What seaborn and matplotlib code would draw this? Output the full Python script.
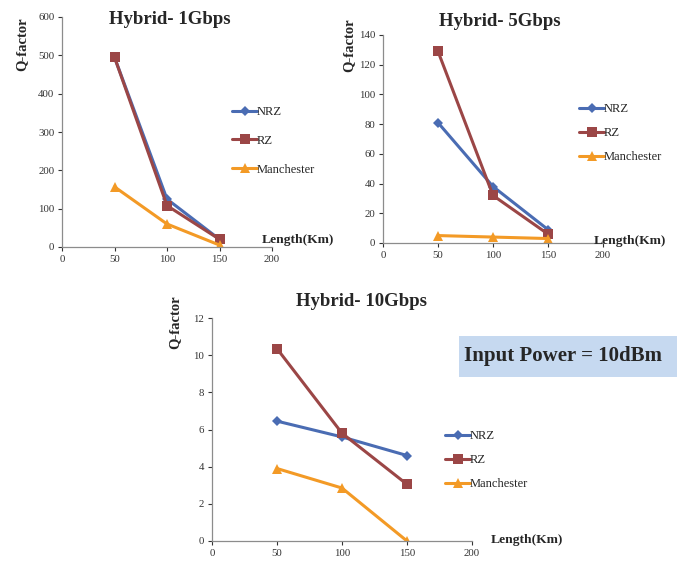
import numpy as np
import pandas as pd
import matplotlib
matplotlib.use("Agg")
import matplotlib.pyplot as plt
import seaborn as sns
from matplotlib.patches import Rectangle

# Datos
lengths = [50, 100, 150]
schemes = ["NRZ", "RZ", "Manchester"]

q_1g_nrz = [495, 125, 20]
q_1g_rz = [495, 108, 20]
q_1g_man = [157, 60, 5]

q_5g_nrz = [81, 38, 9]
q_5g_rz = [129, 32, 6]
q_5g_man = [5, 4, 3]

q_10g_nrz = [6.45, 5.6, 4.6]
q_10g_rz = [10.35, 5.8, 3.05]
q_10g_man = [3.9, 2.85, 0.0]

titles = ["Hybrid- 1Gbps", "Hybrid- 5Gbps", "Hybrid- 10Gbps"]
yticks_1g = [0, 100, 200, 300, 400, 500, 600]
yticks_5g = [0, 20, 40, 60, 80, 100, 120, 140]
yticks_10g = [0, 2, 4, 6, 8, 10, 12]
xticks = [0, 50, 100, 150, 200]


def make_df(nrz, rz, man):
    rows = []
    for name, vals in zip(schemes, [nrz, rz, man]):
        for l, v in zip(lengths, vals):
            rows.append({"Length": l, "Q": v, "Scheme": name})
    return pd.DataFrame(rows)


sns.set_style("white")
plt.rcParams['font.family'] = ['Liberation Serif', 'DejaVu Serif']

palette = {"NRZ": "#4a6cb3", "RZ": "#9b4646", "Manchester": "#f39a26"}
markers = {"NRZ": "D", "RZ": "s", "Manchester": "^"}
msizes = {"NRZ": 5.5, "RZ": 7.5, "Manchester": 7.5}

fig = plt.figure(figsize=(6.77, 5.62), dpi=100)

W, H = 677, 562


def px_axes(x0, y0, x1, y1):
    return fig.add_axes([x0 / W, 1 - y1 / H, (x1 - x0) / W, (y1 - y0) / H])


panels = [
    dict(box=(62, 17, 272, 247), data=(q_1g_nrz, q_1g_rz, q_1g_man), yt=yticks_1g,
         title=(170, 20), ql=(22, 44), ll=(262, 240), leg=(232, 106, 1.35)),
    dict(box=(383, 35, 603, 243), data=(q_5g_nrz, q_5g_rz, q_5g_man), yt=yticks_5g,
         title=(500, 22), ql=(349, 45), ll=(594, 241), leg=(579, 103, 0.96)),
    dict(box=(212, 318, 472, 541), data=(q_10g_nrz, q_10g_rz, q_10g_man), yt=yticks_10g,
         title=(362, 302), ql=(175, 322), ll=(491, 540), leg=(445, 430, 0.96)),
]

for i, p in enumerate(panels):
    ax = px_axes(*p["box"])
    df = make_df(*p["data"])
    sns.lineplot(data=df, x="Length", y="Q", hue="Scheme", style="Scheme",
                 palette=palette, markers=markers, dashes=False, linewidth=2.2,
                 markersize=7, markeredgewidth=0, ax=ax, legend=False)
    for line, name in zip(ax.get_lines(), schemes):
        line.set_markersize(msizes[name])
    ax.set_xlim(0, 200)
    ax.set_ylim(p["yt"][0], p["yt"][-1])
    ax.set_xticks(xticks)
    ax.set_yticks(p["yt"])
    ax.set_xlabel("")
    ax.set_ylabel("")
    ax.tick_params(axis="both", labelsize=7.8, colors="#333333", length=3,
                   width=0.8, direction="out", left=True, bottom=True, pad=2.5)
    for s in ["top", "right"]:
        ax.spines[s].set_visible(False)
    for s in ["left", "bottom"]:
        ax.spines[s].set_color("#8c8c8c")
        ax.spines[s].set_linewidth(0.9)
    ax.patch.set_alpha(0)

    handles = [plt.Line2D([], [], color=palette[n], marker=markers[n],
                          markersize=msizes[n] - 0.5, markeredgewidth=0, lw=2.2)
               for n in schemes]
    lx, ly, sp = p["leg"]
    fig.legend(handles, schemes, loc="upper left",
               bbox_to_anchor=(lx / W, 1 - ly / H), frameon=False,
               fontsize=9, handlelength=2.0, handletextpad=0.0,
               labelspacing=sp, borderaxespad=0, borderpad=0)

    tx, ty = p["title"]
    fig.text(tx / W, 1 - ty / H, titles[i], ha="center", va="center",
             fontsize=13.5, fontweight="bold")
    qx, qy = p["ql"]
    fig.text(qx / W, 1 - qy / H, "Q-factor", ha="center", va="center",
             rotation=90, fontsize=10.5, fontweight="bold")
    lx2, ly2 = p["ll"]
    fig.text(lx2 / W, 1 - ly2 / H, "Length(Km)", ha="left", va="center",
             fontsize=9.7, fontweight="bold")

# Caja de potencia de entrada
fig.patches.append(Rectangle((459 / W, 1 - 377 / H), (677 - 459) / W, 41 / H,
                             transform=fig.transFigure, facecolor="#c6d9f0",
                             edgecolor="none", zorder=0))
fig.text(563 / W, 1 - 356 / H, "Input Power = 10dBm", ha="center", va="center",
         fontsize=15, fontweight="bold")

fig.savefig("out.png", dpi=100)
